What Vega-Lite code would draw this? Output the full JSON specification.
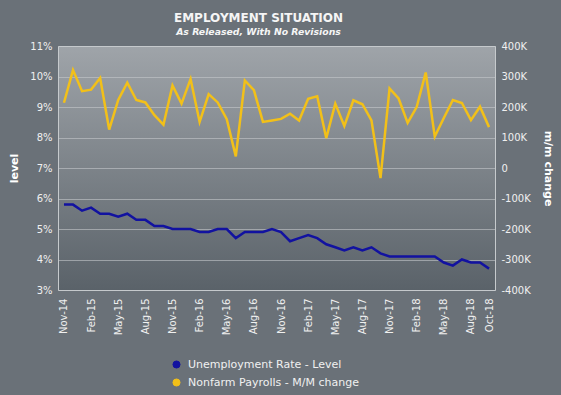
{
  "$schema": "https://vega.github.io/schema/vega-lite/v6.json",
  "width": 437,
  "height": 244,
  "autosize": {"type": "none"},
  "padding": {"left": 58, "top": 46, "right": 66, "bottom": 105},
  "background": "#6a7178",
  "title": {
    "text": "EMPLOYMENT SITUATION",
    "subtitle": "As Released, With No Revisions",
    "anchor": "middle",
    "dx": -18,
    "offset": 3,
    "font": "DejaVu Sans",
    "fontSize": 12,
    "fontWeight": "bold",
    "color": "#f5f5f5",
    "subtitleFont": "DejaVu Sans",
    "subtitleFontSize": 9.3,
    "subtitleFontWeight": "bold",
    "subtitleFontStyle": "italic",
    "subtitleColor": "#f5f5f5",
    "subtitlePadding": 3
  },
  "data": {
    "values": [
      {"month": "Nov-14", "rate": 5.8, "payrolls": 214},
      {"month": "Dec-14", "rate": 5.8, "payrolls": 321},
      {"month": "Jan-15", "rate": 5.6, "payrolls": 252},
      {"month": "Feb-15", "rate": 5.7, "payrolls": 257},
      {"month": "Mar-15", "rate": 5.5, "payrolls": 295},
      {"month": "Apr-15", "rate": 5.5, "payrolls": 126},
      {"month": "May-15", "rate": 5.4, "payrolls": 223},
      {"month": "Jun-15", "rate": 5.5, "payrolls": 280},
      {"month": "Jul-15", "rate": 5.3, "payrolls": 223},
      {"month": "Aug-15", "rate": 5.3, "payrolls": 215},
      {"month": "Sep-15", "rate": 5.1, "payrolls": 173},
      {"month": "Oct-15", "rate": 5.1, "payrolls": 142},
      {"month": "Nov-15", "rate": 5.0, "payrolls": 271},
      {"month": "Dec-15", "rate": 5.0, "payrolls": 211},
      {"month": "Jan-16", "rate": 5.0, "payrolls": 292},
      {"month": "Feb-16", "rate": 4.9, "payrolls": 151},
      {"month": "Mar-16", "rate": 4.9, "payrolls": 242},
      {"month": "Apr-16", "rate": 5.0, "payrolls": 215},
      {"month": "May-16", "rate": 5.0, "payrolls": 160},
      {"month": "Jun-16", "rate": 4.7, "payrolls": 38},
      {"month": "Jul-16", "rate": 4.9, "payrolls": 287},
      {"month": "Aug-16", "rate": 4.9, "payrolls": 255},
      {"month": "Sep-16", "rate": 4.9, "payrolls": 151},
      {"month": "Oct-16", "rate": 5.0, "payrolls": 156},
      {"month": "Nov-16", "rate": 4.9, "payrolls": 161},
      {"month": "Dec-16", "rate": 4.6, "payrolls": 178},
      {"month": "Jan-17", "rate": 4.7, "payrolls": 156},
      {"month": "Feb-17", "rate": 4.8, "payrolls": 227},
      {"month": "Mar-17", "rate": 4.7, "payrolls": 235},
      {"month": "Apr-17", "rate": 4.5, "payrolls": 98},
      {"month": "May-17", "rate": 4.4, "payrolls": 211},
      {"month": "Jun-17", "rate": 4.3, "payrolls": 138},
      {"month": "Jul-17", "rate": 4.4, "payrolls": 222},
      {"month": "Aug-17", "rate": 4.3, "payrolls": 209},
      {"month": "Sep-17", "rate": 4.4, "payrolls": 156},
      {"month": "Oct-17", "rate": 4.2, "payrolls": -33},
      {"month": "Nov-17", "rate": 4.1, "payrolls": 261},
      {"month": "Dec-17", "rate": 4.1, "payrolls": 228},
      {"month": "Jan-18", "rate": 4.1, "payrolls": 148},
      {"month": "Feb-18", "rate": 4.1, "payrolls": 200},
      {"month": "Mar-18", "rate": 4.1, "payrolls": 313},
      {"month": "Apr-18", "rate": 4.1, "payrolls": 103},
      {"month": "May-18", "rate": 3.9, "payrolls": 164},
      {"month": "Jun-18", "rate": 3.8, "payrolls": 223},
      {"month": "Jul-18", "rate": 4.0, "payrolls": 213},
      {"month": "Aug-18", "rate": 3.9, "payrolls": 157},
      {"month": "Sep-18", "rate": 3.9, "payrolls": 201},
      {"month": "Oct-18", "rate": 3.7, "payrolls": 134}
    ]
  },
  "encoding": {
    "x": {
      "field": "month",
      "type": "ordinal",
      "sort": null,
      "scale": {"type": "point", "padding": 0.66},
      "axis": {
        "title": null,
        "grid": false,
        "labelAngle": -90,
        "labelPadding": 8,
        "values": ["Nov-14", "Feb-15", "May-15", "Aug-15", "Nov-15", "Feb-16", "May-16", "Aug-16", "Nov-16", "Feb-17", "May-17", "Aug-17", "Nov-17", "Feb-18", "May-18", "Aug-18", "Oct-18"]
      }
    }
  },
  "layer": [
    {
      "mark": {"type": "line", "strokeWidth": 2.5},
      "encoding": {
        "y": {
          "field": "rate",
          "type": "quantitative",
          "scale": {"domain": [3, 11], "nice": false, "zero": false},
          "axis": {
            "title": "level",
            "orient": "left",
            "values": [3, 4, 5, 6, 7, 8, 9, 10, 11],
            "labelExpr": "datum.value + '%'",
            "labelPadding": 6,
            "titlePadding": 10,
            "grid": true
          }
        },
        "color": {
          "datum": "Unemployment Rate - Level",
          "type": "nominal",
          "scale": {
            "domain": ["Unemployment Rate - Level", "Nonfarm Payrolls - M/M change"],
            "range": ["#1212a0", "#f2c019"]
          },
          "legend": {
            "orient": "none",
            "legendX": 113,
            "legendY": 313,
            "title": null,
            "symbolType": "circle",
            "symbolSize": 50,
            "labelFont": "DejaVu Sans",
            "labelFontSize": 11,
            "labelColor": "#f0f0f0",
            "labelLimit": 400,
            "rowPadding": 5,
            "labelOffset": 6,
            "encode": {
              "symbols": {
                "update": {
                  "fill": {"scale": "color", "field": "value"},
                  "stroke": {"value": "#dcdcdc"},
                  "strokeWidth": {"value": 1},
                  "opacity": {"value": 1}
                }
              }
            }
          }
        }
      }
    },
    {
      "mark": {"type": "line", "strokeWidth": 2.5},
      "encoding": {
        "y": {
          "field": "payrolls",
          "type": "quantitative",
          "scale": {"domain": [-400, 400], "nice": false},
          "axis": {
            "title": "m/m change",
            "orient": "right",
            "values": [-400, -300, -200, -100, 0, 100, 200, 300, 400],
            "labelExpr": "datum.value == 0 ? '0' : datum.value + 'K'",
            "labelPadding": 6,
            "titlePadding": 12,
            "grid": false
          }
        },
        "color": {"datum": "Nonfarm Payrolls - M/M change", "type": "nominal"}
      }
    }
  ],
  "resolve": {"scale": {"y": "independent"}},
  "config": {
    "view": {
      "stroke": "#c6cacd",
      "strokeWidth": 1,
      "fill": {
        "gradient": "linear",
        "x1": 0, "y1": 0, "x2": 0, "y2": 1,
        "stops": [
          {"offset": 0, "color": "#9fa4a9"},
          {"offset": 1, "color": "#5a6269"}
        ]
      }
    },
    "axis": {
      "domain": false,
      "ticks": false,
      "labelFont": "DejaVu Sans",
      "labelFontSize": 10,
      "labelColor": "#f0f0f0",
      "titleFont": "DejaVu Sans",
      "titleFontSize": 11,
      "titleFontWeight": "bold",
      "titleColor": "#ffffff",
      "gridColor": "#c4c8cc",
      "gridOpacity": 0.6,
      "gridWidth": 1
    }
  }
}
